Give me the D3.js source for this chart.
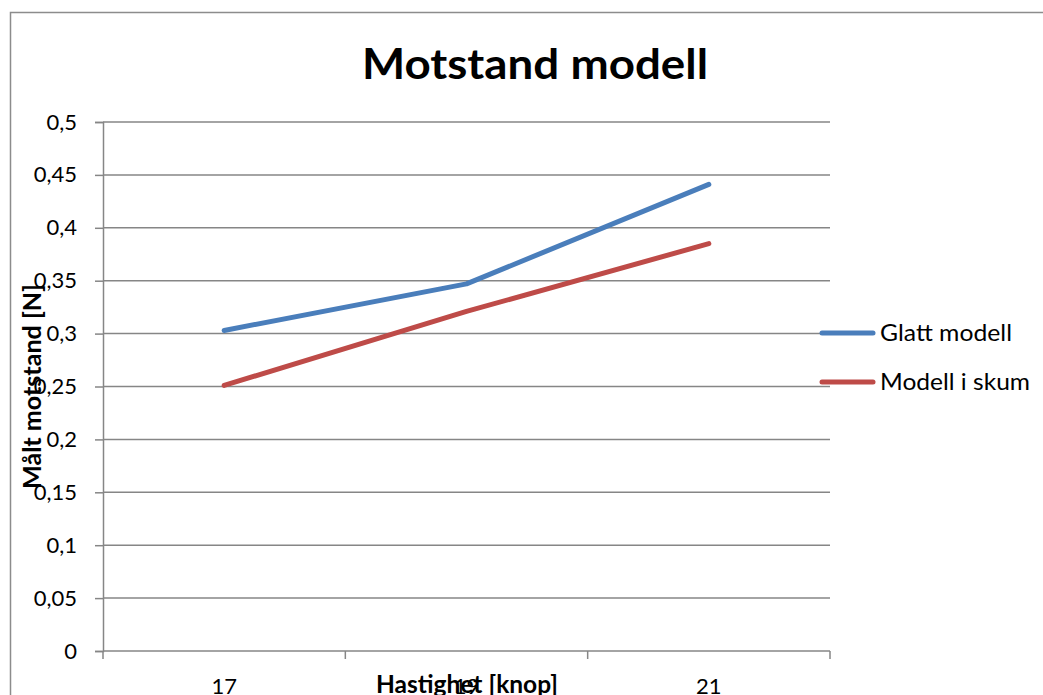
<!DOCTYPE html>
<html>
<head>
<meta charset="utf-8">
<script src="https://cdn.jsdelivr.net/npm/d3@7"></script>
<style>
  html, body { margin: 0; padding: 0; background: #fff; }
  svg { display: block; }
  text { font-family: Lato, "Open Sans", sans-serif; fill: #000; }
</style>
</head>
<body>
<svg id="chart" width="1043" height="695"></svg>
<script>
// Measured drag per speed, two hull variants
const categories = ["17", "19", "21"];
const glattModell = [0.303, 0.347, 0.441];
const modellISkum = [0.251, 0.321, 0.385];
const yTicks = [0, 0.05, 0.1, 0.15, 0.2, 0.25, 0.3, 0.35, 0.4, 0.45, 0.5];
const seriesNames = ["Glatt modell", "Modell i skum"];
const seriesColors = ["#4a7ebb", "#be4b48"];

const svg = d3.select("#chart");
const W = 1043, H = 695;
const plot = { left: 103, right: 830, top: 122, bottom: 651 };

// outer chart frame
svg.append("rect")
  .attr("x", 10.5).attr("y", 12.5)
  .attr("width", W + 20).attr("height", H + 20)
  .attr("fill", "none").attr("stroke", "#8c8c8c").attr("stroke-width", 1.5);

const x = d3.scaleBand().domain(categories).range([plot.left, plot.right]).paddingInner(0).paddingOuter(0);
const y = d3.scaleLinear().domain([0, 0.5]).range([plot.bottom, plot.top]);
const fmt = d => String(d).replace(".", ",");

// horizontal gridlines + y axis
const yAxis = d3.axisLeft(y).tickValues(yTicks).tickFormat(fmt).tickSize(8).tickPadding(18);
const gy = svg.append("g").attr("transform", `translate(${plot.left},0)`).call(yAxis);
gy.select(".domain").attr("stroke", "#868686").attr("stroke-width", 1.5);
gy.selectAll(".tick line").attr("stroke", "#868686").attr("stroke-width", 1.5);
gy.selectAll(".tick text").attr("font-size", 22).attr("font-family", "Lato, sans-serif").attr("fill", "#000");

svg.append("g").selectAll("line").data(yTicks.filter(d => d > 0)).join("line")
  .attr("x1", plot.left).attr("x2", plot.right)
  .attr("y1", d => y(d)).attr("y2", d => y(d))
  .attr("stroke", "#868686").attr("stroke-width", 1.5);

// x axis with ticks at category boundaries
const gx = svg.append("g").attr("transform", `translate(0,${plot.bottom})`);
gx.append("line").attr("x1", plot.left).attr("x2", plot.right)
  .attr("stroke", "#868686").attr("stroke-width", 1.5);
const boundaries = categories.map(c => x(c)).concat([x(categories[categories.length - 1]) + x.bandwidth()]);
gx.selectAll("line.tk").data(boundaries).join("line").attr("class", "tk")
  .attr("x1", d => d).attr("x2", d => d).attr("y1", 0).attr("y2", 8)
  .attr("stroke", "#868686").attr("stroke-width", 1.5);
gx.selectAll("text.lbl").data(categories).join("text").attr("class", "lbl")
  .attr("x", d => x(d) + x.bandwidth() / 2).attr("y", 43)
  .attr("text-anchor", "middle").attr("font-size", 22).text(d => d);

// series lines
const cx = c => x(c) + x.bandwidth() / 2;
const line = d3.line().x((d, i) => cx(categories[i])).y(d => y(d));
[glattModell, modellISkum].forEach((s, i) => {
  svg.append("path").datum(s)
    .attr("d", line)
    .attr("fill", "none")
    .attr("stroke", seriesColors[i])
    .attr("stroke-width", 5)
    .attr("stroke-linecap", "round")
    .attr("stroke-linejoin", "round");
});

// title
svg.append("text").attr("x", 535).attr("y", 79)
  .attr("text-anchor", "middle").attr("font-size", 42).attr("font-weight", "bold")
  .attr("textLength", 346).attr("lengthAdjust", "spacingAndGlyphs")
  .text("Motstand modell");

// axis titles
svg.append("text").attr("x", 467).attr("y", 693)
  .attr("text-anchor", "middle").attr("font-size", 24.5).attr("font-weight", "bold")
  .attr("textLength", 182).attr("lengthAdjust", "spacingAndGlyphs")
  .text("Hastighet [knop]");
svg.append("text")
  .attr("transform", `translate(41,${(plot.top + plot.bottom) / 2}) rotate(-90)`)
  .attr("text-anchor", "middle").attr("font-size", 24.5).attr("font-weight", "bold")
  .attr("textLength", 205).attr("lengthAdjust", "spacingAndGlyphs")
  .text("Målt motstand [N]");

// legend
const legendWidths = [132, 150];
const legend = svg.append("g");
seriesNames.forEach((name, i) => {
  const ly = 333 + i * 49;
  legend.append("line").attr("x1", 822).attr("x2", 873).attr("y1", ly).attr("y2", ly)
    .attr("stroke", seriesColors[i]).attr("stroke-width", 5).attr("stroke-linecap", "round");
  legend.append("text").attr("x", 880).attr("y", ly + 8).attr("font-size", 23)
    .attr("textLength", legendWidths[i]).attr("lengthAdjust", "spacingAndGlyphs")
    .text(name);
});
</script>
</body>
</html>
